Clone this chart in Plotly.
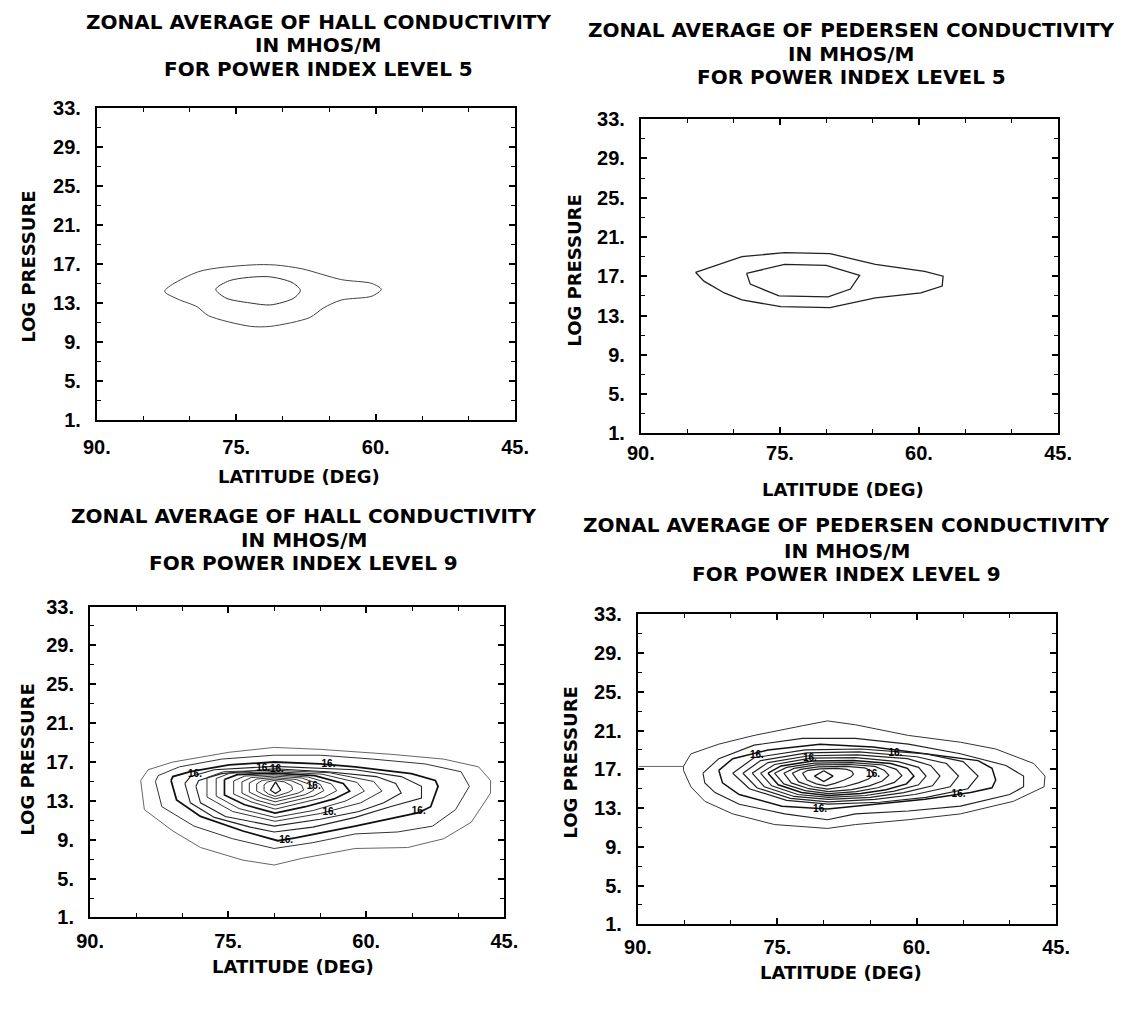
import plotly.graph_objects as go

# page geometry: the plot div sits inside the page body (8 px default margin)
PAGE_OFF = 8
W, H = 1114, 994

# ---------------- axis tick labels ----------------
x_tickvals = [90, 75, 60, 45]
x_ticktext = ["90.", "75.", "60.", "45."]
x_minorvals = [85, 80, 70, 65, 55, 50]
y_tickvals = [1, 5, 9, 13, 17, 21, 25, 29, 33]
y_ticktext = ["1.", "5.", "9.", "13.", "17.", "21.", "25.", "29.", "33."]
y_minorvals = [3, 7, 11, 15, 19, 23, 27, 31]

# ---------------- titles ----------------
title_hall_5 = ["ZONAL AVERAGE OF HALL CONDUCTIVITY", "IN MHOS/M", "FOR POWER INDEX LEVEL 5"]
title_ped_5 = ["ZONAL AVERAGE OF PEDERSEN CONDUCTIVITY", "IN MHOS/M", "FOR POWER INDEX LEVEL 5"]
title_hall_9 = ["ZONAL AVERAGE OF HALL CONDUCTIVITY", "IN MHOS/M", "FOR POWER INDEX LEVEL 9"]
title_ped_9 = ["ZONAL AVERAGE OF PEDERSEN CONDUCTIVITY", "IN MHOS/M", "FOR POWER INDEX LEVEL 9"]

# ---------------- Hall, level 5 (contours: latitude, log pressure) ----------------
h5_c1_lat = [82.7, 79.1, 73.5, 70.8, 67.9, 63.7, 60.4, 59.4, 60.4, 63.7, 65.6, 67.1, 71.3, 73.5, 78.0, 79.2, 81.3, 82.7]
h5_c1_p = [14.2, 16.2, 16.9, 16.9, 16.5, 15.4, 15.0, 14.4, 13.7, 13.3, 12.5, 11.5, 10.6, 10.6, 11.7, 12.6, 13.4, 14.2]
h5_c2_lat = [77.2, 75.7, 71.6, 69.0, 68.1, 68.8, 71.3, 73.5, 76.1, 77.2]
h5_c2_p = [14.4, 15.3, 15.7, 15.1, 14.3, 13.5, 12.8, 13.0, 13.5, 14.4]

# ---------------- Pedersen, level 5 ----------------
p5_c1_lat = [84.1, 83.2, 81.0, 79.1, 74.9, 69.6, 64.7, 59.8, 57.5, 57.4, 59.4, 64.7, 69.6, 74.5, 79.1, 81.3, 84.1]
p5_c1_p = [17.4, 16.5, 15.3, 14.6, 13.9, 13.8, 14.8, 15.3, 16.0, 17.0, 17.5, 18.2, 19.3, 19.4, 19.0, 18.3, 17.4]
p5_c2_lat = [78.6, 78.2, 75.1, 69.8, 67.4, 66.4, 70.0, 74.5, 78.6]
p5_c2_p = [17.3, 16.2, 15.0, 14.9, 15.7, 17.1, 18.1, 18.2, 17.3]

# ---------------- Hall, level 9 ----------------
h9_c1_lat = [84.5, 84.1, 81.0, 78.0, 73.4, 70.0, 66.9, 61.2, 55.5, 51.6, 48.6, 46.5, 46.5, 47.8, 51.6, 57.4, 65.0, 70.0, 74.9, 81.0, 83.7, 84.5]
h9_c1_p = [15.1, 12.1, 9.9, 8.2, 6.9, 6.4, 7.1, 8.1, 8.2, 9.1, 10.8, 13.8, 15.1, 16.5, 17.3, 17.8, 18.3, 18.5, 18.0, 17.0, 16.2, 15.1]
h9_c2_lat = [82.9, 82.2, 78.7, 74.5, 70.0, 65.8, 61.2, 56.6, 52.8, 50.3, 48.8, 49.7, 53.6, 59.3, 65.0, 70.0, 75.7, 80.3, 82.6, 82.9]
h9_c2_p = [15.0, 12.4, 10.4, 9.1, 8.1, 8.7, 9.6, 9.8, 10.4, 12.1, 14.5, 16.0, 16.8, 17.3, 17.7, 17.7, 17.3, 16.5, 15.6, 15.0]
h9_c3_lat = [81.2, 80.6, 78.0, 73.4, 69.6, 67.7, 61.2, 54.3, 53.0, 52.2, 52.5, 55.1, 61.2, 65.0, 70.0, 74.9, 79.1, 81.0, 81.2]
h9_c3_p = [15.1, 13.1, 11.4, 9.9, 8.9, 9.2, 10.4, 11.8, 12.4, 14.5, 15.1, 15.8, 16.5, 16.8, 17.0, 16.7, 16.0, 15.5, 15.1]
h9_c4_lat = [79.7, 79.1, 76.5, 72.6, 70.0, 65.8, 61.2, 57.4, 54.0, 54.0, 56.2, 61.2, 70.0, 76.5, 79.1, 79.7]
h9_c4_p = [14.8, 12.8, 11.3, 10.3, 9.8, 10.3, 11.3, 12.4, 13.3, 14.5, 15.5, 16.2, 16.55, 16.2, 15.5, 14.8]
h9_c5_lat = [78.5, 78.0, 75.3, 70.0, 65.0, 60.8, 58.1, 56.2, 56.8, 58.9, 64.2, 70.0, 75.7, 78.2, 78.5]
h9_c5_p = [14.5, 12.8, 11.4, 10.4, 11.1, 11.9, 12.8, 13.8, 14.8, 15.5, 16.0, 16.3, 15.8, 15.1, 14.5]
h9_c6_lat = [77.3, 75.5, 70.0, 64.0, 59.2, 58.3, 60.6, 65.0, 69.9, 74.5, 77.3, 77.3]
h9_c6_p = [15.4, 16.0, 16.15, 15.9, 15.0, 14.0, 12.8, 11.7, 10.9, 11.9, 13.4, 15.4]
h9_c7_lat = [76.3, 74.8, 70.0, 64.8, 61.0, 60.2, 62.2, 65.8, 69.9, 73.8, 76.3, 76.3]
h9_c7_p = [15.3, 15.85, 16.0, 15.75, 14.9, 14.0, 13.0, 12.0, 11.3, 12.2, 13.5, 15.3]
h9_c8_lat = [75.4, 74.0, 70.0, 65.6, 62.5, 61.8, 63.5, 66.6, 69.9, 73.2, 75.4, 75.4]
h9_c8_p = [15.2, 15.7, 15.85, 15.6, 14.8, 14.0, 13.2, 12.4, 11.75, 12.6, 13.6, 15.2]
h9_c9_lat = [74.4, 73.2, 70.0, 66.3, 63.8, 63.2, 64.6, 67.2, 69.9, 72.5, 74.4, 74.4]
h9_c9_p = [15.05, 15.55, 15.7, 15.45, 14.75, 14.05, 13.35, 12.75, 12.15, 12.9, 13.7, 15.05]
h9_c10_lat = [73.5, 72.5, 70.0, 67.0, 65.0, 64.6, 65.7, 67.9, 69.9, 72.0, 73.5, 73.5]
h9_c10_p = [14.95, 15.4, 15.55, 15.35, 14.7, 14.05, 13.5, 13.0, 12.55, 13.1, 13.8, 14.95]
h9_c11_lat = [72.7, 71.9, 70.0, 67.6, 66.0, 65.7, 66.6, 68.3, 69.9, 71.5, 72.7, 72.7]
h9_c11_p = [14.85, 15.25, 15.4, 15.2, 14.65, 14.1, 13.65, 13.25, 12.9, 13.35, 13.9, 14.85]
h9_c12_lat = [71.9, 71.3, 70.0, 68.2, 67.0, 66.8, 67.4, 68.7, 69.9, 71.1, 71.9, 71.9]
h9_c12_p = [14.75, 15.1, 15.25, 15.1, 14.6, 14.1, 13.8, 13.5, 13.2, 13.6, 14.0, 14.75]
h9_c13_lat = [71.1, 70.7, 70.0, 68.9, 68.1, 68.0, 68.4, 69.2, 69.9, 70.6, 71.1, 71.1]
h9_c13_p = [14.65, 14.95, 15.1, 14.95, 14.55, 14.15, 13.9, 13.65, 13.45, 13.7, 14.05, 14.65]
h9_c14_lat = [69.85, 70.4, 69.85, 69.3, 69.85]
h9_c14_p = [14.95, 14.1, 13.75, 14.1, 14.95]
h9_label_lat = [78.6, 71.2, 69.7, 64.1, 65.7, 64.0, 54.3, 68.7]
h9_label_p = [15.7, 16.3, 16.2, 16.7, 14.5, 11.8, 11.9, 8.9]

# ---------------- Pedersen, level 9 ----------------
p9_tail_lat = [89.9, 85.1]
p9_tail_p = [17.3, 17.3]
p9_c1_lat = [85.1, 84.3, 81.3, 77.5, 72.3, 69.6, 66.6, 60.9, 55.3, 51.5, 47.4, 46.2, 46.3, 49.6, 55.3, 60.9, 66.6, 69.6, 75.3, 79.8, 82.8, 84.3, 85.1, 85.1]
p9_c1_p = [17.3, 18.6, 19.6, 20.5, 21.5, 22.0, 21.6, 20.5, 19.8, 19.1, 17.6, 16.3, 15.2, 13.7, 12.4, 11.8, 11.3, 10.9, 11.3, 12.4, 13.7, 15.2, 16.9, 17.3]
p9_c2_lat = [83.0, 81.3, 77.5, 72.3, 66.6, 60.9, 55.3, 50.4, 48.5, 48.5, 50.0, 55.3, 60.9, 66.6, 69.6, 74.2, 79.1, 81.7, 82.8, 83.0]
p9_c2_p = [16.6, 18.1, 19.5, 20.2, 20.2, 19.6, 18.6, 17.4, 16.3, 15.2, 14.4, 13.2, 12.7, 12.4, 11.8, 12.4, 13.4, 14.6, 15.6, 16.6]
p9_c3_lat = [81.3, 79.8, 76.0, 70.4, 64.7, 59.1, 53.4, 51.9, 51.5, 51.9, 54.2, 59.1, 64.7, 69.6, 74.5, 79.1, 80.9, 81.3]
p9_c3_p = [16.9, 18.1, 19.0, 19.6, 19.3, 18.6, 17.9, 17.1, 15.9, 15.1, 14.6, 13.9, 13.4, 12.9, 13.2, 14.4, 15.6, 16.9]
p9_c4_lat = [79.8, 77.5, 72.0, 66.0, 59.0, 55.0, 53.4, 54.5, 59.0, 64.0, 69.5, 74.0, 78.0, 79.8]
p9_c4_p = [16.6, 18.2, 19.0, 19.1, 18.6, 17.8, 16.3, 15.0, 14.1, 13.6, 13.4, 13.8, 15.0, 16.6]
p9_c5_lat = [78.7, 76.8, 71.8, 66.2, 60.0, 56.8, 55.5, 56.4, 60.2, 64.5, 69.5, 73.6, 77.2, 78.7]
p9_c5_p = [16.6, 17.9, 18.7, 18.8, 18.3, 17.6, 16.3, 15.2, 14.4, 13.9, 13.65, 14.0, 15.1, 16.6]
p9_c6_lat = [77.7, 76.0, 71.6, 66.4, 61.0, 58.5, 57.5, 58.3, 61.4, 65.0, 69.5, 73.2, 76.4, 77.7]
p9_c6_p = [16.6, 17.7, 18.4, 18.5, 18.1, 17.4, 16.3, 15.3, 14.6, 14.1, 13.9, 14.2, 15.2, 16.6]
p9_c7_lat = [76.8, 75.3, 71.4, 66.6, 62.0, 59.8, 59.0, 59.8, 62.4, 65.5, 69.5, 72.8, 75.6, 76.8]
p9_c7_p = [16.6, 17.5, 18.15, 18.2, 17.8, 17.2, 16.3, 15.4, 14.75, 14.3, 14.1, 14.4, 15.3, 16.6]
p9_c8_lat = [76.0, 74.6, 71.2, 66.8, 62.8, 61.0, 60.3, 61.1, 63.3, 66.0, 69.5, 72.4, 74.9, 76.0]
p9_c8_p = [16.6, 17.35, 17.85, 17.9, 17.6, 17.1, 16.3, 15.5, 14.9, 14.5, 14.3, 14.6, 15.4, 16.6]
p9_c9_lat = [75.3, 74.0, 71.0, 67.0, 63.6, 62.2, 61.6, 62.4, 64.2, 66.5, 69.5, 72.0, 74.3, 75.3]
p9_c9_p = [16.6, 17.2, 17.65, 17.7, 17.45, 17.0, 16.35, 15.65, 15.1, 14.7, 14.5, 14.8, 15.5, 16.6]
p9_c10_lat = [74.3, 73.2, 70.8, 67.2, 64.5, 63.5, 63.0, 63.7, 65.1, 67.0, 69.5, 71.6, 73.5, 74.3]
p9_c10_p = [16.6, 17.1, 17.45, 17.5, 17.3, 16.9, 16.4, 15.8, 15.3, 14.9, 14.7, 15.0, 15.6, 16.6]
p9_c11_lat = [73.4, 72.5, 70.6, 67.6, 65.6, 64.9, 64.6, 65.2, 66.3, 67.8, 69.6, 71.2, 72.7, 73.4]
p9_c11_p = [16.6, 17.0, 17.25, 17.3, 17.15, 16.85, 16.45, 16.0, 15.6, 15.2, 14.95, 15.2, 15.7, 16.6]
p9_c12_lat = [72.3, 71.7, 70.4, 68.6, 67.5, 67.0, 66.8, 67.1, 67.8, 68.8, 69.8, 70.8, 71.8, 72.3]
p9_c12_p = [16.6, 16.9, 17.05, 17.1, 17.0, 16.8, 16.5, 16.2, 15.9, 15.55, 15.3, 15.5, 15.9, 16.6]
p9_c13_lat = [70.0, 71.0, 70.0, 69.0, 70.0]
p9_c13_p = [16.85, 16.3, 15.75, 16.3, 16.85]
p9_label_lat = [77.2, 71.5, 62.3, 64.7, 55.5, 70.4]
p9_label_p = [18.4, 18.1, 18.6, 16.5, 14.4, 12.9]

contour_label = "16."

# ---------------- layout geometry (window pixels) ----------------
panels = {
    1: dict(box=(93, 522, 107.5, 426), title=title_hall_5, tx=320, ty=(19, 43, 67),
            xlab=(300, 484), ylab=(23, 270), xstand=8),
    2: dict(box=(651, 1079, 118.5, 440), title=title_ped_5, tx=867, ty=(27, 52, 76),
            xlab=(858, 497), ylab=(583, 274), xstand=1),
    3: dict(box=(86, 511, 617, 935), title=title_hall_9, tx=305, ty=(524, 549, 573),
            xlab=(294, 985), ylab=(21, 774), xstand=5),
    4: dict(box=(648, 1077, 625, 942), title=title_ped_9, tx=862, ty=(534, 560, 584),
            xlab=(856, 991), ylab=(579, 777), xstand=4),
}

def px(x):
    return (x - PAGE_OFF) / W

def py(y):
    return 1 - (y - PAGE_OFF) / H

fig = go.Figure()

TICKFONT = dict(family="Liberation Sans, Arial, sans-serif", size=20, color="black", weight="bold")
TITLEFONT = dict(family="DejaVu Sans, sans-serif", size=20, color="black", weight="bold")
LABFONT = dict(family="DejaVu Sans, sans-serif", size=18, color="black", weight="bold")

def add_line(n, lat, p, width=1.0, color="#333333", shape="linear"):
    fig.add_trace(go.Scatter(
        x=lat, y=p, mode="lines",
        line=dict(color=color, width=width, shape=shape, smoothing=0.8),
        xaxis=f"x{n}", yaxis=f"y{n}", showlegend=False, hoverinfo="skip"))

def add_labels(n, lat, p):
    fig.add_trace(go.Scatter(
        x=lat, y=p, mode="text", text=[contour_label] * len(lat),
        textfont=dict(family="Liberation Sans, Arial", size=10, color="black", weight="bold"),
        xaxis=f"x{n}", yaxis=f"y{n}", showlegend=False, hoverinfo="skip"))

# panel 1
add_line(1, h5_c1_lat, h5_c1_p, 1.0, "#444444", "spline")
add_line(1, h5_c2_lat, h5_c2_p, 1.0, "#333333", "spline")
# panel 2
add_line(2, p5_c1_lat, p5_c1_p, 1.3, "#222222")
add_line(2, p5_c2_lat, p5_c2_p, 1.3, "#222222")
# panel 3
h9 = [(h9_c1_lat, h9_c1_p, 0.9, "#555555"), (h9_c2_lat, h9_c2_p, 1.0, "#333333"),
      (h9_c3_lat, h9_c3_p, 1.8, "#111111"), (h9_c4_lat, h9_c4_p, 1.1, "#222222"),
      (h9_c5_lat, h9_c5_p, 1.1, "#222222"), (h9_c6_lat, h9_c6_p, 1.0, "#333333"),
      (h9_c7_lat, h9_c7_p, 1.0, "#333333"), (h9_c8_lat, h9_c8_p, 1.7, "#111111"),
      (h9_c9_lat, h9_c9_p, 1.0, "#333333"), (h9_c10_lat, h9_c10_p, 1.0, "#333333"),
      (h9_c11_lat, h9_c11_p, 1.0, "#333333"), (h9_c12_lat, h9_c12_p, 1.0, "#333333"),
      (h9_c13_lat, h9_c13_p, 1.0, "#333333"), (h9_c14_lat, h9_c14_p, 1.2, "#111111")]
for lat, p, w, c in h9:
    add_line(3, lat, p, w, c)
add_labels(3, h9_label_lat, h9_label_p)
# panel 4
add_line(4, p9_tail_lat, p9_tail_p, 0.9, "#555555")
p9 = [(p9_c1_lat, p9_c1_p, 1.0, "#333333"), (p9_c2_lat, p9_c2_p, 1.1, "#222222"),
      (p9_c3_lat, p9_c3_p, 1.5, "#111111"), (p9_c4_lat, p9_c4_p, 1.2, "#222222"),
      (p9_c5_lat, p9_c5_p, 1.2, "#222222"), (p9_c6_lat, p9_c6_p, 1.2, "#222222"),
      (p9_c7_lat, p9_c7_p, 1.2, "#222222"), (p9_c8_lat, p9_c8_p, 1.5, "#111111"),
      (p9_c9_lat, p9_c9_p, 1.2, "#222222"), (p9_c10_lat, p9_c10_p, 1.2, "#222222"),
      (p9_c11_lat, p9_c11_p, 1.2, "#222222"), (p9_c12_lat, p9_c12_p, 1.2, "#222222"),
      (p9_c13_lat, p9_c13_p, 1.2, "#111111")]
for lat, p, w, c in p9:
    add_line(4, lat, p, w, c)
add_labels(4, p9_label_lat, p9_label_p)

annotations = []
layout_axes = {}
for n, cfg in panels.items():
    x0, x1, y0, y1 = cfg["box"]
    sfx = "" if n == 1 else str(n)
    layout_axes[f"xaxis{sfx}"] = dict(
        domain=[px(x0), px(x1)], range=[90, 45], anchor=f"y{n}",
        tickmode="array", tickvals=x_tickvals, ticktext=x_ticktext,
        ticks="inside", ticklen=6, tickwidth=1.5, tickcolor="black",
        minor=dict(tickmode="array", tickvals=x_minorvals, ticks="inside", ticklen=4,
                   tickwidth=1.3, tickcolor="black", showgrid=False),
        showline=True, linecolor="black", linewidth=2, mirror="ticks",
        showgrid=False, zeroline=False, tickfont=TICKFONT, ticklabelstandoff=cfg["xstand"],
        fixedrange=True)
    layout_axes[f"yaxis{sfx}"] = dict(
        domain=[py(y1), py(y0)], range=[1, 33], anchor=f"x{n}",
        tickmode="array", tickvals=y_tickvals, ticktext=y_ticktext,
        ticks="inside", ticklen=6, tickwidth=1.5, tickcolor="black",
        minor=dict(tickmode="array", tickvals=y_minorvals, ticks="inside", ticklen=4,
                   tickwidth=1.3, tickcolor="black", showgrid=False),
        showline=True, linecolor="black", linewidth=2, mirror="ticks",
        showgrid=False, zeroline=False, tickfont=TICKFONT, ticklabelstandoff=10,
        fixedrange=True)
    for line, yy in zip(cfg["title"], cfg["ty"]):
        annotations.append(dict(text=line, x=px(cfg["tx"]), y=py(yy), xref="paper", yref="paper",
                                xanchor="center", yanchor="middle", showarrow=False, font=TITLEFONT))
    annotations.append(dict(text="LATITUDE (DEG)", x=px(cfg["xlab"][0]), y=py(cfg["xlab"][1]),
                            xref="paper", yref="paper", xanchor="center", yanchor="middle",
                            showarrow=False, font=LABFONT))
    annotations.append(dict(text="LOG PRESSURE", x=px(cfg["ylab"][0]), y=py(cfg["ylab"][1]),
                            xref="paper", yref="paper", xanchor="center", yanchor="middle",
                            textangle=-90, showarrow=False, font=LABFONT))

fig.update_layout(
    width=W, height=H, margin=dict(l=0, r=0, t=0, b=0),
    paper_bgcolor="white", plot_bgcolor="white",
    annotations=annotations, showlegend=False, **layout_axes)

fig.write_html("out.html", config={"displayModeBar": False})
